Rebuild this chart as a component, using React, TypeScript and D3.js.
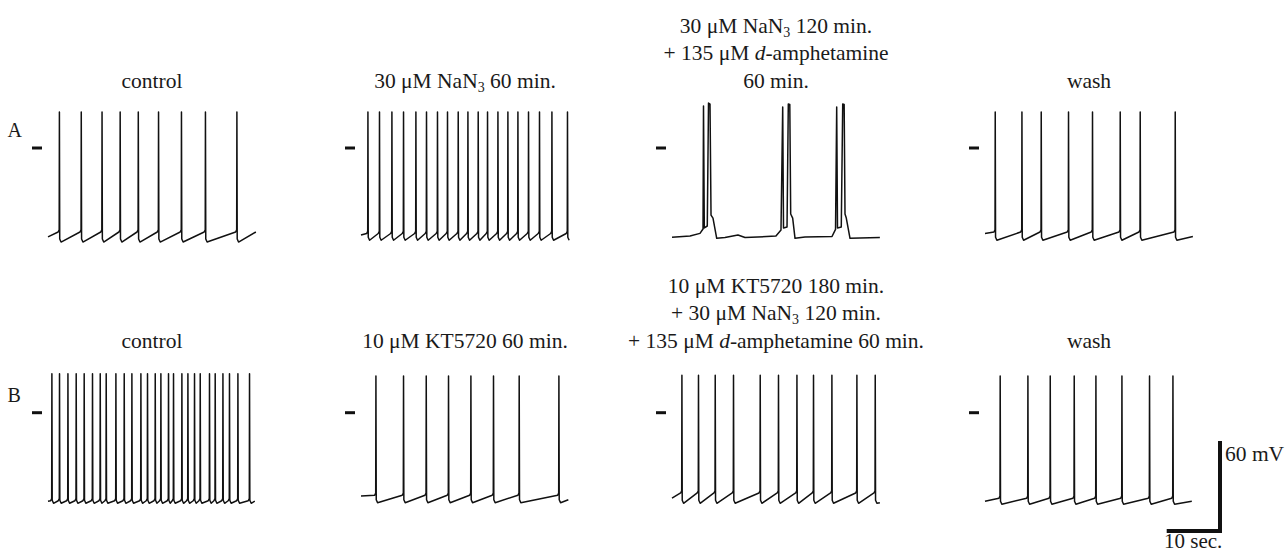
import * as d3 from 'd3';

// spike times (s), row A then row B
const aControlSpikes = [2.1, 6.2, 10.1, 13.5, 16.9, 20.7, 25.0, 29.5, 35.4];
const aNaN3Spikes = [1.26, 3.43, 5.76, 7.94, 10.26, 12.25, 14.31, 16.19, 18.2, 20.02, 21.95, 23.7, 25.65, 27.52, 29.4, 31.39, 33.45, 35.78, 38.7];
const aWashSpikes = [1.88, 6.89, 10.51, 15.63, 20.13, 25.33, 29.08, 35.65];
const bControlSpikes = [0.69, 2.12, 3.7, 5.25, 6.75, 8.31, 9.76, 10.88, 12.7, 14.26, 15.7, 17.39, 18.63, 20.08, 21.14, 22.57, 23.51, 25.08, 26.21, 27.45, 28.52, 30.26, 31.33, 32.78, 34.01, 35.59, 37.77];
const bKTSpikes = [2.76, 7.94, 12.2, 16.38, 20.58, 24.82, 29.64, 37.09];
const bComboSpikes = [1.82, 4.93, 8.07, 11.5, 16.51, 19.94, 23.4, 26.51, 29.96, 34.65, 38.09];
const bWashSpikes = [2.81, 8.01, 12.2, 16.7, 20.77, 25.65, 30.83, 35.22];

// membrane levels (mV): start, pre-spike, peak, AHP trough, end
const aControlLevels = [-59.3, -56, 24, -62.7, -56];
const aNaN3Levels = [-58, -57, 24, -61.5, -61];
const aWashLevels = [-57, -56, 24, -61.5, -59];
const bControlLevels = [-59, -58.7, 26, -60.4, -59];
const bKTLevels = [-55.5, -55, 24.5, -60, -58];
const bComboLevels = [-57, -53.5, 25, -60.4, -60];
const bWashLevels = [-59, -57, 24.5, -61, -59];

// burst trace (doublets) in NaN3 + amphetamine, [t (s), V (mV)]
const aBurstTrace: [number, number][] = [
  [0, -59.5], [3.38, -58.7], [5.25, -56.9], [5.82, -54], [5.91, 28], [6.06, -53.3],
  [6.62, -52], [6.85, 30], [7.13, 29.3], [7.32, -44.7], [7.69, -46.7], [8.39, -60.2],
  [9.94, -59.7], [12.38, -58], [13.7, -59.7], [19.5, -58.7], [20.45, -54.7], [20.77, 27.3],
  [20.92, -53.3], [21.58, -52.7], [21.82, 29.3], [22.1, 29], [22.27, -44], [22.64, -46.7],
  [23.08, -60.2], [24.95, -59.3], [30.02, -59], [30.68, -54.3], [30.9, 27.3], [31.05, -53.3],
  [31.76, -52.7], [32.03, 29.3], [32.3, 29], [32.46, -44], [32.7, -46.7], [33.4, -60.2],
  [39.0, -59.7],
];

const rowLabels = ['A', 'B'];
const titlesA = [['control'], ['30 μM NaN_3 60 min.'], ['30 μM NaN_3 120 min.', '+ 135 μM *d*-amphetamine', '60 min.'], ['wash']];
const titlesB = [['control'], ['10 μM KT5720 60 min.'], ['10 μM KT5720 180 min.', '+ 30 μM NaN_3 120 min.', '+ 135 μM *d*-amphetamine 60 min.'], ['wash']];
const scaleBarTime = 10; // sec
const scaleBarVolt = 60; // mV

const W = 1285;
const H = 553;
const colX = [48, 361, 672, 985];
const zeroY = [148, 412.7];
const titleY = [88, 348];
const pxPerSec = 5.33;
const pxPerMv = 1.5;
const FONT = '"Liberation Serif", "Times New Roman", serif';

function spikeTrace(spikes: number[], lv: number[], dur = 39): [number, number][] {
  const [start, th, pk, tr, end] = lv;
  const pts: [number, number][] = [[0, start]];
  spikes.forEach((t) => {
    pts.push([Math.max(0.01, t - 0.2), th]);
    pts.push([t, th + 1.5]);
    pts.push([t + 0.04, pk]);
    pts.push([t + 0.1, tr + 2]);
    pts.push([t + 0.35, tr]);
  });
  if (dur > pts[pts.length - 1][0]) pts.push([dur, end]);
  return pts;
}

const traces: [number, number][][][] = [
  [
    spikeTrace(aControlSpikes, aControlLevels),
    spikeTrace(aNaN3Spikes, aNaN3Levels, 38.8),
    aBurstTrace,
    spikeTrace(aWashSpikes, aWashLevels),
  ],
  [
    spikeTrace(bControlSpikes, bControlLevels, 38.8),
    spikeTrace(bKTSpikes, bKTLevels, 38.9),
    spikeTrace(bComboSpikes, bComboLevels),
    spikeTrace(bWashSpikes, bWashLevels, 38.8),
  ],
];

// "_3" -> subscript, "*d*" -> italic
const RichLine = ({ text, x, y }: { text: string; x: number; y: number }) => {
  const parts = text.split(/(_\d|\*[^*]+\*)/).filter((p) => p.length);
  let shift = 0;
  return (
    <text x={x} y={y} textAnchor="middle" fontFamily={FONT} fontSize={21.5} fill="#1a1a1a">
      {parts.map((p, i) => {
        if (p.startsWith('_')) {
          shift = 4;
          return <tspan key={i} fontSize={14} dy={4}>{p.slice(1)}</tspan>;
        }
        const dy = shift ? -shift : undefined;
        shift = 0;
        if (p.startsWith('*')) return <tspan key={i} dy={dy} fontStyle="italic">{p.slice(1, -1)}</tspan>;
        return <tspan key={i} dy={dy}>{p}</tspan>;
      })}
    </text>
  );
};

export default function App() {
  const line = d3.line<[number, number]>();
  const titles = [titlesA, titlesB];

  // scale bar uses the same px-per-unit as the traces
  const sbX = d3.scaleLinear().domain([0, scaleBarTime]).range([1220 - scaleBarTime * pxPerSec, 1220]);
  const sbY = d3.scaleLinear().domain([0, scaleBarVolt]).range([531, 531 - scaleBarVolt * pxPerMv]);

  return (
    <svg width={W} height={H} style={{ position: 'absolute', left: 0, top: 0, background: '#fff' }}>
      {rowLabels.map((lab, r) => (
        <text key={lab} x={7.5} y={r === 0 ? 137.3 : 401.7} fontFamily={FONT} fontSize={20} fill="#1a1a1a">
          {lab}
        </text>
      ))}
      {traces.map((row, r) =>
        row.map((pts, c) => {
          const x = d3.scaleLinear().domain([0, 39]).range([colX[c], colX[c] + 39 * pxPerSec]);
          const y = d3.scaleLinear().domain([0, 60]).range([zeroY[r], zeroY[r] - 60 * pxPerMv]);
          line.x((d) => x(d[0])).y((d) => y(d[1]));
          const lines = titles[r][c];
          return (
            <g key={`${r}-${c}`}>
              {lines.map((txt, k) => (
                <RichLine
                  key={k}
                  text={txt}
                  x={colX[c] + 104}
                  y={titleY[r] - (lines.length - 1 - k) * 27.7}
                />
              ))}
              <line x1={colX[c] - 16} x2={colX[c] - 6} y1={y(0)} y2={y(0)} stroke="#111" strokeWidth={3} />
              <path d={line(pts) ?? ''} fill="none" stroke="#111" strokeWidth={1.5} strokeLinejoin="round" />
            </g>
          );
        })
      )}
      <path
        d={`M${sbX(0)},${sbY(0)}H${sbX(scaleBarTime)}V${sbY(scaleBarVolt)}`}
        fill="none"
        stroke="#111"
        strokeWidth={4}
      />
      <text x={1225} y={461} fontFamily={FONT} fontSize={21.5} fill="#1a1a1a">
        {scaleBarVolt} mV
      </text>
      <text x={1164} y={548} fontFamily={FONT} fontSize={21} fill="#1a1a1a">
        {scaleBarTime} sec.
      </text>
    </svg>
  );
}
